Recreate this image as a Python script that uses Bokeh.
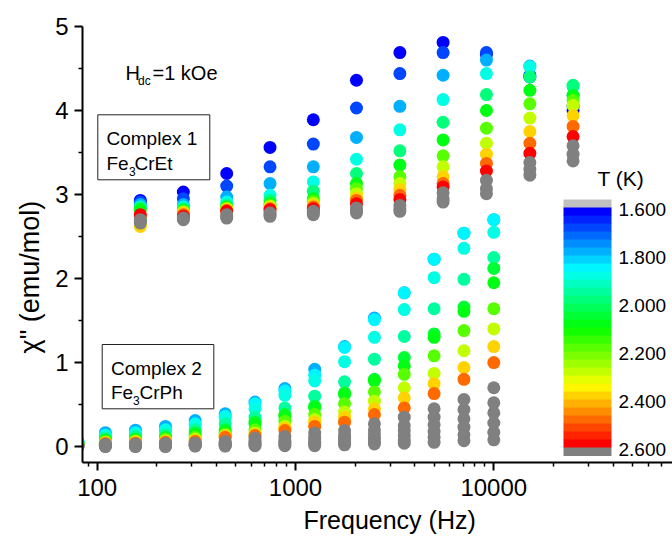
import math
from bokeh.plotting import figure
from bokeh.models import (ColumnDataSource, Label, BoxAnnotation, Title,
                          FixedTicker, NumeralTickFormatter)
from bokeh.embed import file_html
from bokeh.resources import INLINE

# ---------------- data ----------------
# Complex 1 (Fe3CrEt): frequencies (Hz) and chi'' (emu/mol) per temperature (K)
freq1 = [165, 272, 450, 744, 1230, 2030, 3360, 5550, 9180, 15200, 25100]
temps1 = [1.6, 1.7, 1.8, 1.9, 2.0, 2.1, 2.2, 2.3, 2.4, 2.5, 2.6, 2.7, 2.8, 2.9]
chi1_160 = [2.93, 3.03, 3.25, 3.56, 3.89, 4.36, 4.69, 4.81, 4.67, 4.40, 4.00]
chi1_170 = [2.91, 2.95, 3.10, 3.33, 3.60, 4.03, 4.44, 4.69, 4.69, 4.42, 4.05]
chi1_180 = [2.88, 2.88, 2.97, 3.13, 3.33, 3.68, 4.05, 4.42, 4.60, 4.53, 4.18]
chi1_190 = [2.85, 2.85, 2.91, 2.99, 3.15, 3.42, 3.77, 4.13, 4.44, 4.52, 4.28]
chi1_200 = [2.84, 2.83, 2.87, 2.93, 3.04, 3.25, 3.52, 3.86, 4.19, 4.40, 4.30]
chi1_210 = [2.82, 2.81, 2.85, 2.89, 2.95, 3.13, 3.35, 3.65, 4.00, 4.24, 4.18]
chi1_220 = [2.70, 2.80, 2.84, 2.87, 2.92, 3.07, 3.21, 3.46, 3.79, 4.08, 4.12]
chi1_230 = [2.64, 2.79, 2.83, 2.86, 2.89, 3.01, 3.13, 3.33, 3.61, 3.91, 4.06]
chi1_240 = [2.62, 2.78, 2.82, 2.84, 2.87, 2.96, 3.06, 3.21, 3.48, 3.75, 3.94]
chi1_250 = [2.74, 2.76, 2.81, 2.83, 2.85, 2.93, 2.99, 3.13, 3.37, 3.61, 3.81]
chi1_260 = [2.76, 2.74, 2.80, 2.82, 2.83, 2.89, 2.94, 3.09, 3.28, 3.49, 3.69]
chi1_270 = [2.70, 2.72, 2.76, 2.78, 2.80, 2.84, 2.87, 3.02, 3.17, 3.38, 3.58]
chi1_280 = [2.68, 2.71, 2.74, 2.76, 2.78, 2.81, 2.83, 2.95, 3.07, 3.30, 3.48]
chi1_290 = [2.66, 2.70, 2.72, 2.74, 2.76, 2.78, 2.80, 2.91, 3.01, 3.23, 3.40]

# Complex 2 (Fe3CrPh)
freq2 = [80, 110, 156, 221, 312, 442, 625, 884, 1250, 1768, 2500, 3536, 5000, 7071, 10000]
temps2 = [1.8, 1.85, 1.9, 1.95, 2.05, 2.1, 2.2, 2.3, 2.4, 2.5, 2.7, 2.8, 2.9, 3.0, 3.2, 3.5]
chi2_180 = [0.06, 0.165, 0.195, 0.24, 0.31, 0.39, 0.53, 0.69, 0.92, 1.19, 1.53, 1.83, 2.23, 2.54, 2.70]
chi2_185 = [0.05, 0.135, 0.165, 0.20, 0.27, 0.36, 0.51, 0.66, 0.85, 1.18, 1.51, 1.83, 2.23, 2.54, 2.70]
chi2_190 = [0.045, 0.125, 0.15, 0.19, 0.26, 0.34, 0.45, 0.61, 0.78, 1.01, 1.30, 1.63, 2.01, 2.36, 2.55]
chi2_195 = [0.04, 0.10, 0.12, 0.14, 0.20, 0.27, 0.35, 0.46, 0.60, 0.77, 1.04, 1.31, 1.64, 1.99, 2.25]
chi2_205 = [0.035, 0.08, 0.09, 0.11, 0.16, 0.20, 0.29, 0.38, 0.48, 0.64, 0.80, 1.06, 1.34, 1.66, 2.12]
chi2_210 = [0.03, 0.07, 0.08, 0.10, 0.14, 0.17, 0.27, 0.36, 0.46, 0.62, 0.78, 0.96, 1.30, 1.61, 1.95]
chi2_220 = [0.03, 0.06, 0.07, 0.09, 0.11, 0.15, 0.20, 0.30, 0.38, 0.51, 0.65, 0.86, 1.08, 1.38, 1.64]
chi2_230 = [0.025, 0.05, 0.06, 0.07, 0.09, 0.13, 0.16, 0.24, 0.32, 0.41, 0.54, 0.70, 0.87, 1.14, 1.40]
chi2_240 = [0.02, 0.04, 0.05, 0.06, 0.07, 0.12, 0.14, 0.22, 0.29, 0.35, 0.45, 0.58, 0.75, 0.94, 1.19]
chi2_250 = [0.02, 0.035, 0.04, 0.05, 0.06, 0.11, 0.13, 0.19, 0.24, 0.29, 0.38, 0.46, 0.63, 0.80, 1.00]
chi2_270 = [0.015, 0.025, 0.03, 0.035, 0.04, 0.06, 0.10, 0.12, 0.16, 0.19, 0.27, 0.35, 0.45, 0.56, 0.70]
chi2_280 = [0.01, 0.02, 0.02, 0.025, 0.03, 0.04, 0.07, 0.08, 0.11, 0.14, 0.20, 0.25, 0.35, 0.44, 0.52]
chi2_290 = [0.01, 0.01, 0.015, 0.02, 0.02, 0.03, 0.05, 0.06, 0.08, 0.10, 0.15, 0.19, 0.26, 0.33, 0.40]
chi2_300 = [0.005, 0.01, 0.01, 0.01, 0.015, 0.02, 0.03, 0.04, 0.05, 0.07, 0.10, 0.13, 0.18, 0.23, 0.28]
chi2_320 = [0.0, 0.005, 0.005, 0.005, 0.01, 0.01, 0.015, 0.02, 0.03, 0.04, 0.06, 0.08, 0.11, 0.14, 0.17]
chi2_350 = [0.0, 0.0, 0.0, 0.0, 0.005, 0.005, 0.01, 0.01, 0.01, 0.02, 0.03, 0.04, 0.05, 0.07, 0.08]

chi1 = [chi1_160, chi1_170, chi1_180, chi1_190, chi1_200, chi1_210, chi1_220,
        chi1_230, chi1_240, chi1_250, chi1_260, chi1_270, chi1_280, chi1_290]
chi2 = [chi2_180, chi2_185, chi2_190, chi2_195, chi2_205, chi2_210, chi2_220, chi2_230,
        chi2_240, chi2_250, chi2_270, chi2_280, chi2_290, chi2_300, chi2_320, chi2_350]

x_ticks = [100, 1000, 10000]
y_ticks = [0, 1, 2, 3, 4, 5]
cbar_ticks = [1.6, 1.8, 2.0, 2.2, 2.4, 2.6]
T_LOW, T_HIGH, N_BANDS = 1.6, 2.6, 30

# ---------------- colour scale ----------------
STOPS = [(0, 0, 255), (0, 255, 255), (0, 255, 0), (255, 255, 0), (255, 0, 0)]
GREY_HIGH = "#808080"
GREY_LOW = "#c0c0c0"


def ramp(t):
    s = t * (len(STOPS) - 1)
    k = min(int(s), len(STOPS) - 2)
    f = s - k
    a, b = STOPS[k], STOPS[k + 1]
    return "#%02x%02x%02x" % tuple(round(a[j] + (b[j] - a[j]) * f) for j in range(3))


bands = [ramp(i / (N_BANDS - 1)) for i in range(N_BANDS)]


def t_color(T):
    if T > T_HIGH + 1e-9:
        return GREY_HIGH
    idx = math.floor((T - T_LOW) / (T_HIGH - T_LOW) * N_BANDS - 1e-6)
    return bands[max(0, min(N_BANDS - 1, idx))]


# ---------------- geometry ----------------
W, H = 672, 541
FL, FR, FT, FB = 82, 672, 26, 462
X_LO, X_HI = 84.33, 79630.0
Y_LO, Y_HI = -0.19, 5.0
LX0, LX1 = math.log10(X_LO), math.log10(X_HI)


def px_x(px):
    return 10 ** (LX0 + (px - FL) / (FR - FL) * (LX1 - LX0))


def px_y(py):
    return Y_HI - (py - FT) / (FB - FT) * (Y_HI - Y_LO)


FONT = "Liberation Sans"

p = figure(width=W, height=H, x_axis_type="log", x_range=(X_LO, X_HI),
           y_range=(Y_LO, Y_HI), output_backend="svg", toolbar_location=None,
           min_border_left=FL, min_border_right=W - FR, min_border_top=FT,
           min_border_bottom=H - FB)
p.outline_line_color = None
p.grid.visible = False
p.background_fill_color = "white"

minor_x = [m * 10 ** e for e in range(1, 5) for m in range(2, 10)]
p.xaxis.ticker = FixedTicker(ticks=x_ticks, minor_ticks=minor_x)
p.xaxis.formatter = NumeralTickFormatter(format="0")
p.yaxis.ticker = FixedTicker(ticks=y_ticks, minor_ticks=[t + 0.5 for t in y_ticks[:-1]])

for ax in (p.xaxis[0], p.yaxis[0]):
    ax.axis_line_width = 2
    ax.axis_line_color = "black"
    ax.major_tick_line_width = 2
    ax.minor_tick_line_width = 1.5
    ax.major_tick_line_color = "black"
    ax.minor_tick_line_color = "black"
    ax.major_tick_in = 0
    ax.major_tick_out = 8
    ax.minor_tick_in = 0
    ax.minor_tick_out = 4
    ax.major_label_text_font = FONT
    ax.major_label_text_font_size = "24px"
    ax.major_label_text_color = "black"
p.xaxis.major_label_standoff = 8
p.yaxis.major_label_standoff = 6

# axis titles (offset like the original layout)
p.add_layout(Title(text="Frequency (Hz)", align="left", offset=221, standoff=11,
                   text_font=FONT, text_font_size="25px", text_font_style="normal",
                   text_color="black"), "below")
p.add_layout(Title(text='\u03c7" (emu/mol)', align="left", offset=109, standoff=15,
                   text_font=FONT, text_font_size="27px", text_font_style="normal",
                   text_color="black"), "left")

# ---------------- points ----------------
for freqs, temps, table in ((freq1, temps1, chi1), (freq2, temps2, chi2)):
    xs, ys, cs = [], [], []
    for T, row in zip(temps, table):
        xs += freqs
        ys += row
        cs += [t_color(T)] * len(freqs)
    src = ColumnDataSource(dict(f=xs, chi=ys, c=cs))
    p.scatter("f", "chi", source=src, size=13, fill_color="c", line_color=None)

# ---------------- colour bar (drawn as bands) ----------------
CB_L, CB_R, CB_TOP, CB_BAND = 563, 611, 199, 8
cb_colors = [GREY_LOW] + bands + [GREY_HIGH]
tops = [CB_TOP + i * CB_BAND for i in range(len(cb_colors))]
p.quad(left=[px_x(CB_L)] * len(cb_colors), right=[px_x(CB_R)] * len(cb_colors),
       top=[px_y(t) for t in tops], bottom=[px_y(t + CB_BAND + 0.5) for t in tops],
       fill_color=cb_colors, line_color=None)


# ---------------- texts ----------------
def lab(text, px, py, size, baseline="alphabetic"):
    p.add_layout(Label(x=px_x(px), y=px_y(py), text=text, text_font=FONT,
                       text_font_size=f"{size}px", text_baseline=baseline,
                       text_align="left", text_color="black"))


for T in cbar_ticks:
    py = CB_TOP + CB_BAND + (T - T_LOW) / (T_HIGH - T_LOW) * N_BANDS * CB_BAND
    lab(f"{T:.3f}", CB_R + 7, py + 1.5, 19, baseline="middle")

lab("T (K)", 597, 178, 21)
lab("H", 125, 72, 20)
lab("dc", 137.5, 80, 12)
lab("=1 kOe", 152, 72, 20)

lab("Complex 1", 106, 138, 19)
lab("Fe", 106, 163, 19)
lab("3", 128.5, 171, 12)
lab("CrEt", 134, 163, 19)
lab("Complex 2", 110.5, 368, 19)
lab("Fe", 110.5, 392, 19)
lab("3", 132.5, 399.5, 12)
lab("CrPh", 139, 392, 19)

for (l, r, t, b) in ((97.3, 209.3, 114.3, 179.3), (101.7, 213.3, 344.0, 408.3)):
    p.add_layout(BoxAnnotation(left=px_x(l), right=px_x(r), top=px_y(t), bottom=px_y(b),
                               fill_color=None, fill_alpha=0, line_color="#222222",
                               line_alpha=1.0, line_width=1))

open("out.html", "w").write(file_html(p, INLINE))
